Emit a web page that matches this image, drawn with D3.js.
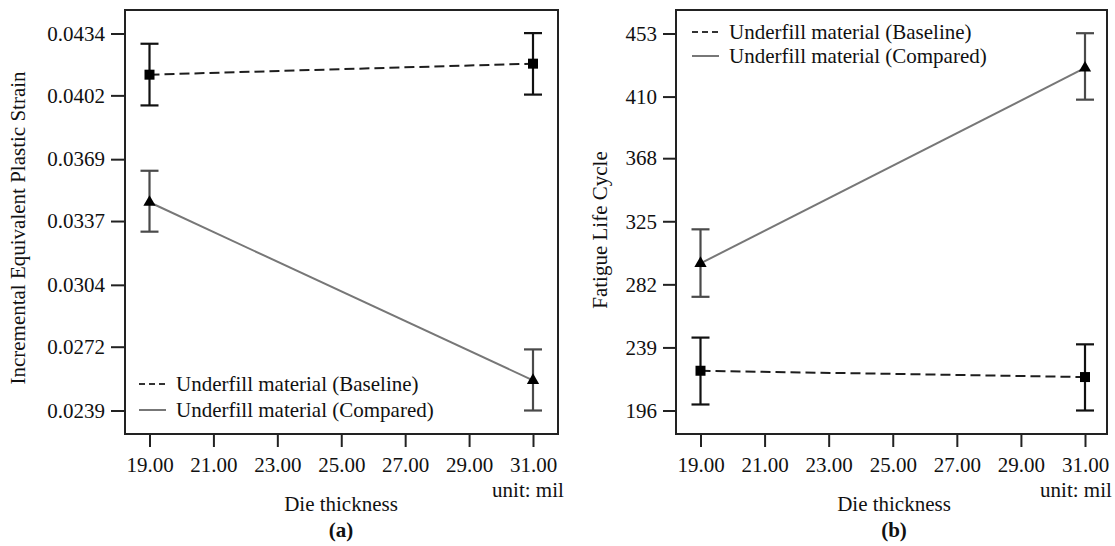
<!DOCTYPE html>
<html>
<head>
<meta charset="utf-8">
<script src="https://cdn.jsdelivr.net/npm/d3@7"></script>
<style>
  body { margin: 0; background: #fff; }
  svg text { font-family: "Liberation Serif", "Times New Roman", serif; fill: #111; }
</style>
</head>
<body>
<svg id="chart" width="1115" height="546"></svg>
<script>
// die thickness (mil)
var thickness = [19, 31];
var xTicks = [19, 21, 23, 25, 27, 29, 31];

// (a) incremental equivalent plastic strain
var strainTicks = [0.0239, 0.0272, 0.0304, 0.0337, 0.0369, 0.0402, 0.0434];
var strainBaseline = [0.04127, 0.04184];
var strainBaselineLo = [0.03968, 0.04024];
var strainBaselineHi = [0.04287, 0.04342];
var strainCompared = [0.03467, 0.02546];
var strainComparedLo = [0.03315, 0.0239];
var strainComparedHi = [0.0363, 0.02706];

// (b) fatigue life cycle
var lifeTicks = [196, 239, 282, 325, 368, 410, 453];
var lifeBaseline = [223.1, 218.8];
var lifeBaselineLo = [200.1, 196];
var lifeBaselineHi = [245.7, 241.1];
var lifeCompared = [296.3, 429.5];
var lifeComparedLo = [273.5, 407.9];
var lifeComparedHi = [319.5, 453.2];

var legendNames = ["Underfill material (Baseline)", "Underfill material (Compared)"];

var FS = "21px";
var svg = d3.select("#chart");

function series(vals, lo, hi) {
    return thickness.map(function(t, i) { return {x: t, y: vals[i], lo: lo[i], hi: hi[i]}; });
}

function drawPanel(p) {
    var g = svg.append("g");

    var x = d3.scaleLinear().domain([19, 31]).range([p.x0, p.x1]);
    var y = d3.scaleLinear().domain([p.ticks[0], p.ticks[p.ticks.length - 1]]).range([410.5, 33.5]);

    // frame
    g.append("rect")
        .attr("x", p.left).attr("y", 10)
        .attr("width", p.right - p.left).attr("height", 424)
        .attr("fill", "none").attr("stroke", "#222").attr("stroke-width", 2);

    var yAxis = d3.axisLeft(y).tickValues(p.ticks).tickFormat(p.fmt).tickSize(p.tick).tickPadding(6);
    g.append("g")
        .attr("transform", "translate(" + p.left + ",0)")
        .call(yAxis)
        .call(function(a) {
            a.select(".domain").remove();
            a.selectAll("line").attr("stroke", "#222").attr("stroke-width", 2);
            a.selectAll("text").style("font-size", FS).attr("fill", "#111");
        });

    var xAxis = d3.axisBottom(x).tickValues(xTicks).tickFormat(d3.format(".2f")).tickSize(13).tickPadding(10);
    g.append("g")
        .attr("transform", "translate(0,434)")
        .call(xAxis)
        .call(function(a) {
            a.select(".domain").remove();
            a.selectAll("line").attr("stroke", "#222").attr("stroke-width", 2);
            a.selectAll("text").style("font-size", FS).attr("fill", "#111");
        });

    g.append("text").attr("x", p.mid).attr("y", 511).attr("text-anchor", "middle")
        .style("font-size", FS).text("Die thickness");
    g.append("text").attr("x", p.unitX).attr("y", 497).attr("text-anchor", "middle")
        .style("font-size", FS).text("unit: mil");
    g.append("text").attr("x", p.mid).attr("y", 537).attr("text-anchor", "middle")
        .style("font-size", FS).style("font-weight", "bold").text(p.tag);
    g.append("text")
        .attr("transform", "translate(" + p.labelX + "," + p.labelY + ") rotate(-90)")
        .attr("text-anchor", "middle")
        .style("font-size", FS).text(p.yLabel);

    var line = d3.line().x(function(d) { return x(d.x); }).y(function(d) { return y(d.y); });

    var styles = [
        {data: p.base, stroke: "#1e1e1e", dash: "10,5", bar: "#111", marker: "square"},
        {data: p.comp, stroke: "#777", dash: null, bar: "#4a4a4a", marker: "triangle"}
    ];

    styles.forEach(function(s) {
        g.append("path")
            .datum(s.data)
            .attr("d", line)
            .attr("fill", "none")
            .attr("stroke", s.stroke)
            .attr("stroke-width", 2)
            .attr("stroke-dasharray", s.dash);

        var bars = g.selectAll(null).data(s.data).enter().append("g");
        bars.append("line")
            .attr("x1", function(d) { return x(d.x); }).attr("x2", function(d) { return x(d.x); })
            .attr("y1", function(d) { return y(d.lo); }).attr("y2", function(d) { return y(d.hi); })
            .attr("stroke", s.bar).attr("stroke-width", 2.2);
        [function(d) { return y(d.lo); }, function(d) { return y(d.hi); }].forEach(function(fy) {
            bars.append("line")
                .attr("x1", function(d) { return x(d.x) - 9; }).attr("x2", function(d) { return x(d.x) + 9; })
                .attr("y1", fy).attr("y2", fy)
                .attr("stroke", s.bar).attr("stroke-width", 2.2);
        });

        var sym = s.marker === "square" ? d3.symbolSquare : d3.symbolTriangle;
        var size = s.marker === "square" ? 100 : 65;
        g.selectAll(null).data(s.data).enter().append("path")
            .attr("d", d3.symbol().type(sym).size(size))
            .attr("transform", function(d) { return "translate(" + x(d.x) + "," + y(d.y) + ")"; })
            .attr("fill", "#000");
    });

    // legend
    var leg = g.append("g").attr("transform", "translate(" + p.legX + "," + p.legY + ")");
    legendNames.forEach(function(name, i) {
        leg.append("line")
            .attr("x1", 0).attr("x2", 27).attr("y1", i * p.legGap).attr("y2", i * p.legGap)
            .attr("stroke", i === 0 ? "#333" : "#777").attr("stroke-width", 2)
            .attr("stroke-dasharray", i === 0 ? "6,4" : null);
        leg.append("text")
            .attr("x", 37).attr("y", i * p.legGap).attr("dy", "0.33em")
            .style("font-size", FS).text(name);
    });
}

drawPanel({
    left: 125, right: 558, x0: 149.5, x1: 533, tick: 14,
    ticks: strainTicks, fmt: d3.format(".4f"),
    base: series(strainBaseline, strainBaselineLo, strainBaselineHi),
    comp: series(strainCompared, strainComparedLo, strainComparedHi),
    yLabel: "Incremental Equivalent Plastic Strain", labelX: 25, labelY: 228,
    legX: 139, legY: 384, legGap: 26, tag: "(a)", mid: 341, unitX: 528
});

drawPanel({
    left: 676, right: 1107, x0: 700.5, x1: 1085, tick: 13,
    ticks: lifeTicks, fmt: d3.format("d"),
    base: series(lifeBaseline, lifeBaselineLo, lifeBaselineHi),
    comp: series(lifeCompared, lifeComparedLo, lifeComparedHi),
    yLabel: "Fatigue Life Cycle", labelX: 607, labelY: 230,
    legX: 692, legY: 32, legGap: 24, tag: "(b)", mid: 894, unitX: 1076
});
</script>
</body>
</html>
